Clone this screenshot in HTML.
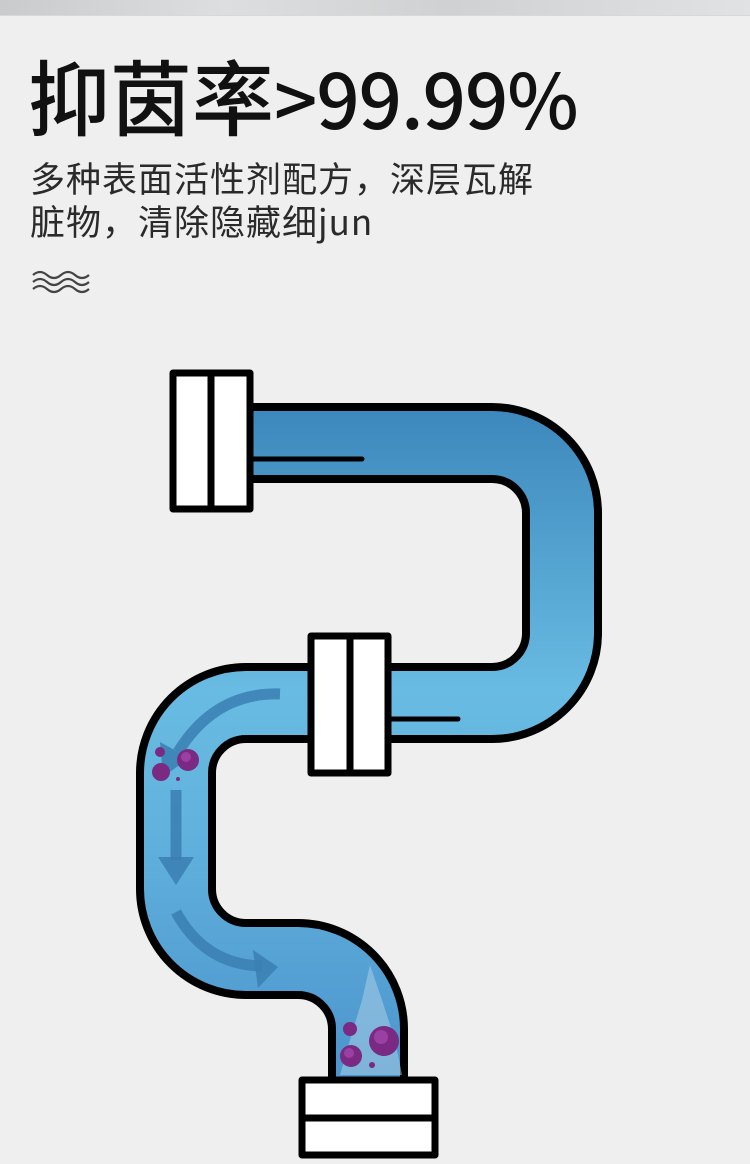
<!DOCTYPE html>
<html><head><meta charset="utf-8">
<style>
html,body{margin:0;padding:0;}
body{width:750px;height:1164px;background:#efefef;position:relative;overflow:hidden;font-family:"Liberation Sans","Noto Sans CJK SC",sans-serif;}
.top{position:absolute;left:0;top:0;width:750px;height:15px;background:linear-gradient(90deg,#c9cbcc,#dcdedf 30%,#cfd1d2 60%,#e0e2e3);border-bottom:1px solid #d8d8d8;}
.t{position:absolute;left:28px;top:44px;font-size:82px;color:#111;white-space:nowrap;line-height:100px;font-family:"Noto Sans CJK SC",sans-serif;font-weight:500;}
.t .n{font-size:76px;letter-spacing:-1px;}
.s{position:absolute;left:30px;top:156px;font-size:35px;letter-spacing:1px;color:#2a2a2a;line-height:43px;font-family:"Noto Sans CJK SC",sans-serif;font-weight:400;white-space:nowrap;}
svg{position:absolute;left:0;top:0;}
</style></head><body>
<div class="top"></div>
<div class="t">抑茵率<span class="n">&gt;99.99%</span></div>
<div class="s">多种表面活性剂配方，深层瓦解<br>脏物，清除隐藏细jun</div>
<svg width="750" height="1164" viewBox="0 0 750 1164">
<defs>
<linearGradient id="g" gradientUnits="userSpaceOnUse" x1="0" y1="400" x2="0" y2="1090">
<stop offset="0" stop-color="#3b86bb"/>
<stop offset="0.42" stop-color="#68bbe2"/>
<stop offset="0.6" stop-color="#62b3de"/>
<stop offset="1" stop-color="#4b93cc"/>
</linearGradient>
</defs>
<g fill="none" stroke="#444" stroke-width="2.2">
<path d="M33 275 q7-6 14 0 t14 0 t14 0 t14 0"/>
<path d="M33 282 q7-6 14 0 t14 0 t14 0 t14 0"/>
<path d="M33 289 q7-6 14 0 t14 0 t14 0 t14 0"/>
</g>
<path d="M250 443 H492 A70 70 0 0 1 562 513 V633 A70 70 0 0 1 492 703 H246 A70 70 0 0 0 176 773 V889 A70 70 0 0 0 246 959 H298 A70 70 0 0 1 368 1029 V1085" fill="none" stroke="#000" stroke-width="80"/>
<path d="M250 443 H492 A70 70 0 0 1 562 513 V633 A70 70 0 0 1 492 703 H246 A70 70 0 0 0 176 773 V889 A70 70 0 0 0 246 959 H298 A70 70 0 0 1 368 1029 V1085" fill="none" stroke="url(#g)" stroke-width="64"/>
<g stroke="#000" stroke-width="5" stroke-linecap="round">
<line x1="250" y1="459" x2="362" y2="459"/>
<line x1="390" y1="719" x2="458" y2="719"/>
</g>
<g fill="none" stroke="#3a7fb2" stroke-width="11" opacity="0.85">
<path d="M280 694 Q215 692 178 752"/>
<path d="M176 790 V860"/>
<path d="M176 912 Q205 965 262 966"/>
</g>
<g fill="#3a7fb2" opacity="0.85">
<polygon points="163,777 160,742 189,758"/>
<polygon points="158,857 194,857 176,885"/>
<polygon points="278,967 253,950 258,988"/>
</g>
<path d="M340 1075 L350 1040 L362 1000 L370 965 L382 1000 L395 1040 L402 1075 Z" fill="#a9cde6" opacity="0.55"/>
<g fill="#7a2a82">
<circle cx="188" cy="760" r="11"/><circle cx="161" cy="772" r="9"/><circle cx="160" cy="752" r="5"/><circle cx="178" cy="779" r="2"/>
<circle cx="384" cy="1041" r="15"/><circle cx="351" cy="1056" r="11"/><circle cx="350" cy="1029" r="7"/><circle cx="372" cy="1065" r="3"/>
</g>
<g fill="#b050b8" opacity="0.6">
<circle cx="186" cy="757" r="5"/><circle cx="381" cy="1037" r="7"/><circle cx="349" cy="1053" r="5"/>
</g>
<g fill="#fff" stroke="#000" stroke-width="7" stroke-linejoin="round">
<rect x="173" y="373" width="77" height="136"/>
<rect x="311" y="636" width="77" height="137"/>
<rect x="302" y="1080" width="133" height="75"/>
</g>
<g stroke="#000" stroke-width="7">
<line x1="211" y1="373" x2="211" y2="509"/>
<line x1="350" y1="636" x2="350" y2="773"/>
<line x1="302" y1="1118" x2="435" y2="1118"/>
</g>
</svg>
</body></html>
